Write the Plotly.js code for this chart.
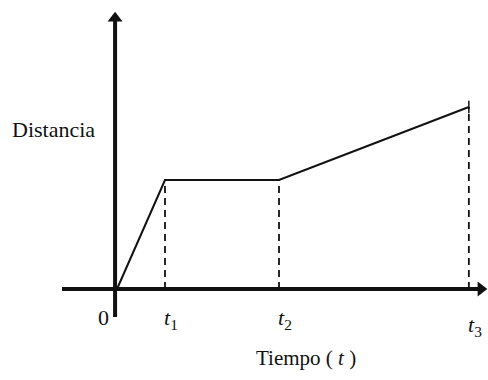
<!DOCTYPE html>
<html>
<head>
<meta charset="utf-8">
<script src="https://cdn.plot.ly/plotly-3.0.1.min.js"></script>
<style>
  html, body { margin: 0; padding: 0; background: #ffffff; }
  #chart { width: 488px; height: 380px; }
</style>
</head>
<body>
<div id="chart"></div>
<script>
// Distance-time graph: the values of the broken line
const times = [0, 1, 3.375, 7.33];
const distances = [0, 3, 3, 5.01];
const tickLabels = ['0', '<i>t</i><sub>1</sub>', '<i>t</i><sub>2</sub>', '<i>t</i><sub>3</sub>'];
const yLabel = 'Distancia';
const xLabel = 'Tiempo ( <i>t</i> )';

const serif = 'Liberation Serif, Times New Roman, serif';
const ink = '#111';

// Dashed drop lines from each break point to the time axis
const dropTraces = times.slice(1).map((t, i) => ({
  x: [t, t],
  y: [0, distances[i + 1]],
  type: 'scatter',
  mode: 'lines',
  line: { color: ink, width: 1.8, dash: '7px,5px' },
  hoverinfo: 'skip',
}));

const mainTrace = {
  x: times,
  y: distances,
  type: 'scatter',
  mode: 'lines',
  line: { color: ink, width: 2 },
  hoverinfo: 'skip',
};

const endMark = {
  x: [times[times.length - 1]],
  y: [distances[distances.length - 1]],
  type: 'scatter',
  mode: 'markers',
  marker: { symbol: 'line-ns', size: 9, line: { color: ink, width: 1.5 } },
  hoverinfo: 'skip',
};

// Axes with arrow tips, drawn as line traces plus triangle markers
const axisX = {
  x: [-1.146, 7.58], y: [0, 0],
  type: 'scatter', mode: 'lines',
  line: { color: ink, width: 4 }, hoverinfo: 'skip',
};
const axisY = {
  x: [-0.04, -0.04], y: [-0.77, 7.45],
  type: 'scatter', mode: 'lines',
  line: { color: ink, width: 4 }, hoverinfo: 'skip',
};
const tips = {
  x: [7.58, -0.04], y: [0, 7.45],
  type: 'scatter', mode: 'markers',
  marker: { symbol: ['triangle-right', 'triangle-up'], size: 13, color: ink, line: { width: 0 } },
  hoverinfo: 'skip',
};

// tick labels under the time axis
const tickAnnotations = times.map((t, i) => ({
  x: t, y: 0, xref: 'x', yref: 'y',
  text: tickLabels[i],
  showarrow: false,
  xanchor: 'center', yanchor: 'top',
  xshift: i === 0 ? -14 : 6,
  yshift: i === 3 ? -21 : -14,
  font: { family: serif, size: 22, color: ink },
}));

const annotations = [
  ...tickAnnotations,
  {
    x: -1.33, y: 4.4, xref: 'x', yref: 'y',
    text: yLabel, showarrow: false,
    xanchor: 'center', yanchor: 'middle',
    font: { family: serif, size: 22, color: ink },
  },
  {
    x: 3.94, y: -1.9, xref: 'x', yref: 'y',
    text: xLabel, showarrow: false,
    xanchor: 'center', yanchor: 'middle',
    font: { family: serif, size: 21, color: ink },
  },
];

Plotly.newPlot('chart', [...dropTraces, mainTrace, endMark, axisX, axisY, tips], {
  width: 488,
  height: 380,
  margin: { t: 0, r: 0, b: 0, l: 0 },
  showlegend: false,
  xaxis: { range: [-2.4375, 7.729], visible: false, fixedrange: true },
  yaxis: { range: [-2.505, 7.955], visible: false, fixedrange: true },
  annotations,
  paper_bgcolor: '#ffffff',
  plot_bgcolor: '#ffffff',
}, { staticPlot: true });
</script>
</body>
</html>
